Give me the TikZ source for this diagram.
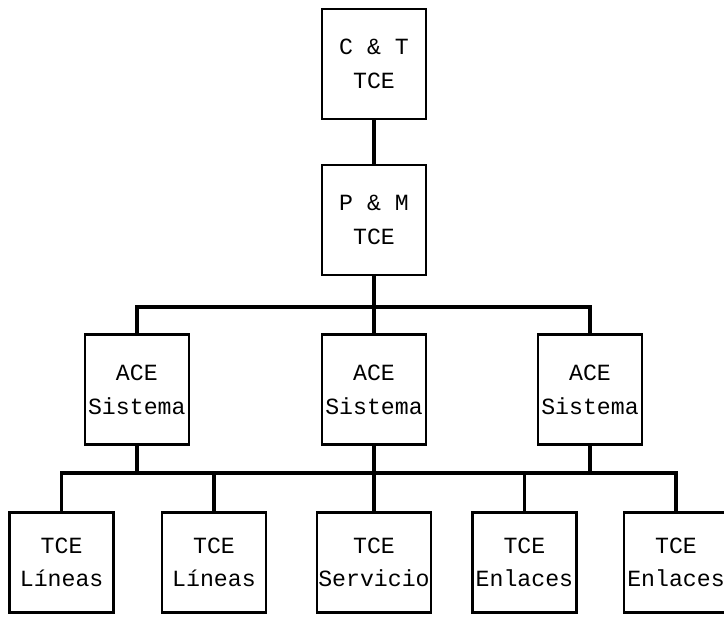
\documentclass[tikz,border=0pt]{standalone}
\usepackage{fontspec}
\setmonofont{Liberation Mono}
\usetikzlibrary{positioning, calc}

\begin{document}
\begin{tikzpicture}[font=\ttfamily\fontsize{16.5}{24}\selectfont,
        box/.style={rectangle, draw=black, line width=1.8pt, fill=white,
                    minimum width=2.6cm, minimum height=2.75cm, align=center, inner sep=1pt},
        leaf/.style={box, minimum height=2.5cm},
        link/.style={draw=black, line width=2.6pt}
    ]
        \useasboundingbox (0,0) rectangle (18.1,15.45);
        % direccion
        \node[box] (ct) at (9.35,13.85) {C \& T\\TCE};
        \node[box] (pm) at (9.35,9.95)  {P \& M\\TCE};
        % ACE
        \node[box] (aceA) at (3.42,5.71)  {ACE\\Sistema};
        \node[box] (aceB) at (9.35,5.71)  {ACE\\Sistema};
        \node[box] (aceC) at (14.75,5.71) {ACE\\Sistema};
        % TCE
        \node[leaf] (tceA) at (1.54,1.39)  {TCE\\Líneas};
        \node[leaf] (tceB) at (5.35,1.39)  {TCE\\Líneas};
        \node[leaf] (tceC) at (9.35,1.39)  {TCE\\Servicio};
        \node[leaf] (tceD) at (13.11,1.39) {TCE\\Enlaces};
        \node[leaf] (tceE) at (16.9,1.39)  {TCE\\Enlaces};

        \coordinate (busTop) at (9.35,7.78);
        \coordinate (busLow) at (9.35,3.63);

        \draw[link] (ct) -- (pm);
        \draw[link] (pm) -- (busTop);
        \draw[link] (aceA.north) -- (aceA.north |- busTop) -- (aceC.north |- busTop) -- (aceC.north);
        \draw[link] (busTop) -- (aceB.north);
        \draw[link] (aceA.south) -- (aceA.south |- busLow);
        \draw[link] (aceB.south) -- (aceB.south |- busLow);
        \draw[link] (aceC.south) -- (aceC.south |- busLow);
        \draw[link] (tceA.north) -- (tceA.north |- busLow) -- (tceE.north |- busLow) -- (tceE.north);
        \draw[link] (tceB.north |- busLow) -- (tceB.north);
        \draw[link] (tceC.north |- busLow) -- (tceC.north);
        \draw[link] (tceD.north |- busLow) -- (tceD.north);
    \end{tikzpicture}
\end{document}
